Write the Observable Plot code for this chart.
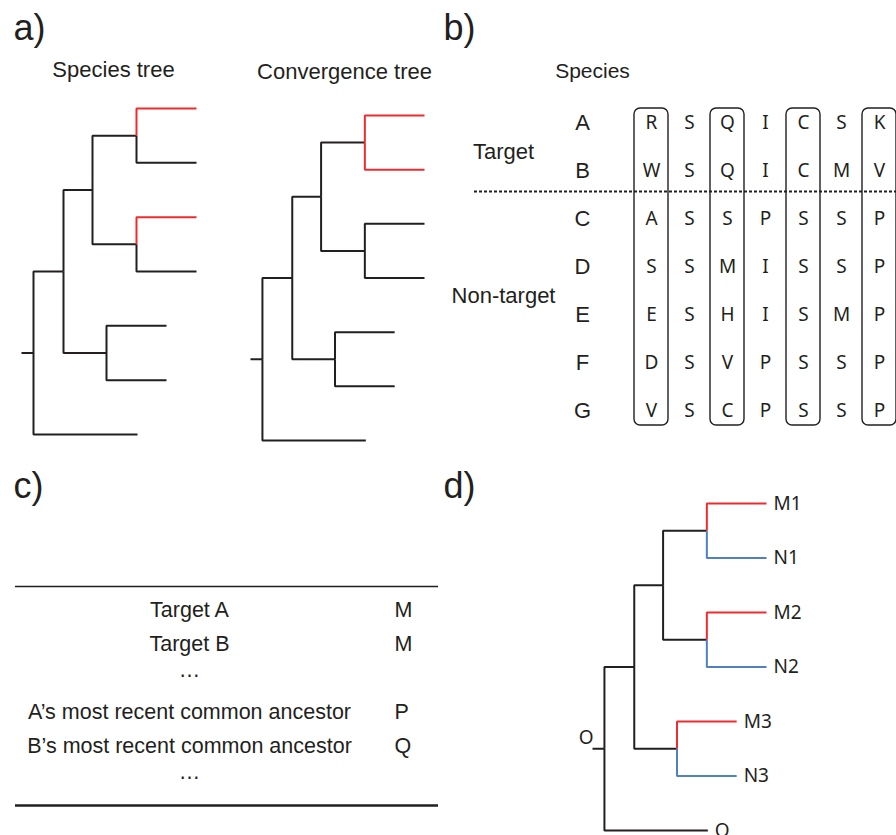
<!DOCTYPE html>
<html>
<head>
<meta charset="utf-8">
<script src="https://cdn.jsdelivr.net/npm/d3@7"></script>
<script src="https://cdn.jsdelivr.net/npm/@observablehq/plot@0.6"></script>
<style>
  body { margin: 0; background: #fff; }
  #root { position: relative; width: 896px; height: 835px; overflow: hidden; background: #fff; }
  #root svg { position: absolute; }
</style>
</head>
<body>
<div id="root"></div>
<script>
// ---------------- data ----------------
const panelLabels = ["a)", "b)", "c)", "d)"];
const treeTitles = ["Species tree", "Convergence tree"];

// one tree topology shared by all three trees (branch lengths)
const nodeIds       = ["root", "n1",  "n2", "c1", "L1", "L2", "c2", "L3", "L4", "c3", "L5", "L6", "out"];
const nodeParents   = [null,   "root","n1", "n2", "c1", "c1", "n2", "c2", "c2", "n1", "c3", "c3", "root"];
const branchLengths = [12,     30,    29,   44,   60,   60,   44,   60,   60,   43,   60,   60,   104];

const speciesTreeTargets = ["L1", "L3"];
const convergenceTreeTargets = ["L1", "L2"];
const dTreeTargets = ["L1", "L3", "L5"];
const dTreeSisters = ["L2", "L4", "L6"];
const dLeafIds = ["L1", "L2", "L3", "L4", "L5", "L6", "out"];
const dLeafLabels = ["M1", "N1", "M2", "N2", "M3", "N3", "O"];
const dRootLabel = "O";

// panel b
const speciesRows = ["A", "B", "C", "D", "E", "F", "G"];
const siteColumns = [1, 2, 3, 4, 5, 6, 7];
const alignment = ["RSQICSK", "WSQICMV", "ASSPSSP", "SSMISSP", "ESHISMP", "DSVPSSP", "VSCPSSP"];
const boxedColumns = [1, 3, 5, 7];
const groupLabels = ["Target", "Non-target"];
const groupAnchorRows = ["B", "E"];
const lastTargetRow = "B";
const speciesHeader = "Species";

// panel c
const tableLabels = ["Target A", "Target B", "…", "A’s most recent common ancestor", "B’s most recent common ancestor", "…"];
const tableStates = ["M", "M", "", "P", "Q", ""];

// ---------------- styles ----------------
const INK = "#231f20", RED = "#ee2c2f", BLUE = "#4f81bd";
const ARIAL = "Liberation Sans, Arial, sans-serif";
const SANS = "Noto Sans, Open Sans, sans-serif";
const container = document.getElementById("root");

function place(svg, left, top) {
  svg.style.left = left + "px";
  svg.style.top = top + "px";
  svg.style.background = "transparent";
  svg.style.overflow = "visible";
  container.appendChild(svg);
}

const nodes = nodeIds.map((id, i) => ({id, parent: nodeParents[i], length: branchLengths[i]}));

function layoutTree(kindOf) {
  const root = d3.stratify().id(d => d.id).parentId(d => d.parent)(nodes);
  root.eachBefore(n => { n.x = (n.parent ? n.parent.x : 0) + n.data.length; });
  let k = 0;
  root.eachAfter(n => {
    n.y = n.children ? (n.children[0].y + n.children[n.children.length - 1].y) / 2 : k++;
  });
  const links = [{x1: 0, y1: root.y, x2: root.x, y2: root.y, kind: "plain"}].concat(
    root.descendants().filter(n => n.parent).map(n => ({
      x1: n.parent.x, y1: n.parent.y, x2: n.x, y2: n.y, kind: kindOf(n.id)
    }))
  );
  links.sort((a, b) => (a.kind !== "plain") - (b.kind !== "plain"));
  return {root, links, leaves: root.leaves()};
}

const maxDepth = d3.max(layoutTree(() => "plain").leaves, d => d.x);
const colorScale = {domain: ["plain", "target", "sister"], range: [INK, RED, BLUE]};

function treeMark(links) {
  return Plot.link(links, {
    x1: "x1", y1: "y1", x2: "x2", y2: "y2",
    curve: "step-before", stroke: "kind", strokeWidth: 2, strokeLinejoin: "miter", strokeLinecap: "butt"
  });
}

function panelLabel(text, dx, dy) {
  return Plot.text([text], {frameAnchor: "top-left", textAnchor: "start", lineAnchor: "middle",
    dx, dy, fontSize: 36, fontFamily: ARIAL, fill: INK});
}

// ---------------- panel a: species tree ----------------
{
  const t = layoutTree(id => speciesTreeTargets.includes(id) ? "target" : "plain");
  const svg = Plot.plot({
    width: 230, height: 455, margin: 0,
    x: {domain: [0, maxDepth], range: [21, 196], axis: null},
    y: {domain: [0, 6], range: [108, 434], axis: null},
    color: colorScale,
    marks: [
      panelLabel(panelLabels[0], 13, 28),
      Plot.text([treeTitles[0]], {frameAnchor: "top", lineAnchor: "middle", dx: -2, dy: 69,
        fontSize: 22, fontFamily: ARIAL, fill: INK}),
      treeMark(t.links)
    ]
  });
  place(svg, 0, 0);
}

// ---------------- panel a: convergence tree ----------------
{
  const t = layoutTree(id => convergenceTreeTargets.includes(id) ? "target" : "plain");
  const svg = Plot.plot({
    width: 210, height: 455, margin: 0,
    x: {domain: [0, maxDepth], range: [20, 194], axis: null},
    y: {domain: [0, 6], range: [115, 440], axis: null},
    color: colorScale,
    marks: [
      Plot.text([treeTitles[1]], {frameAnchor: "top", lineAnchor: "middle", dx: 9, dy: 71,
        fontSize: 22, fontFamily: ARIAL, fill: INK}),
      treeMark(t.links)
    ]
  });
  place(svg, 230, 0);
}

// ---------------- panel b: alignment ----------------
{
  const cells = [];
  speciesRows.forEach((row, i) => siteColumns.forEach((col, j) => cells.push({row, col, letter: alignment[i][j]})));
  const svg = Plot.plot({
    width: 456, height: 455, marginLeft: 34, marginRight: 0, marginTop: 0, marginBottom: 0,
    x: {type: "band", domain: siteColumns, range: [189.75, 459.25], paddingInner: 0.117, paddingOuter: 0.0585, axis: null},
    y: {type: "point", domain: speciesRows, range: [120, 412], padding: 0, axis: null},
    marks: [
      panelLabel(panelLabels[1], -31, 28),
      Plot.text([speciesHeader], {frameAnchor: "top-left", textAnchor: "middle", lineAnchor: "middle",
        dx: 118, dy: 71, fontSize: 21, fontFamily: ARIAL, fill: INK}),
      Plot.text(groupLabels, {y: (d, i) => groupAnchorRows[i], frameAnchor: "left", textAnchor: "middle",
        dx: 29, dy: -19, fontSize: 22, fontFamily: ARIAL, fill: INK}),
      Plot.text(speciesRows, {y: d => d, frameAnchor: "left", textAnchor: "middle", dx: 108,
        fontSize: 22, fontFamily: ARIAL, fill: INK}),
      Plot.ruleY([lastTargetRow], {dy: 21, stroke: INK, strokeWidth: 2.2, strokeDasharray: "3,2"}),
      Plot.barY(boxedColumns, {x: d => d, y1: () => speciesRows[0], y2: () => speciesRows[speciesRows.length - 1],
        insetTop: -14, insetBottom: -15, fill: "none", stroke: INK, strokeWidth: 1.4, rx: 6}),
      Plot.text(cells, {x: "col", y: "row", text: "letter", fontSize: 19, fontFamily: SANS, fill: INK})
    ]
  });
  place(svg, 440, 0);
}

// ---------------- panel c: table ----------------
{
  const rows = tableLabels.map((label, i) => ({i, label, state: tableStates[i], dots: label === "…"}));
  const svg = Plot.plot({
    width: 448, height: 380, marginLeft: 15, marginRight: 10, marginTop: 0, marginBottom: 0,
    x: {type: "point", domain: ["label", "state"], range: [189, 394], padding: 0, axis: null},
    y: {type: "point", domain: d3.range(rows.length), range: [153, 326], padding: 0, axis: null},
    marks: [
      panelLabel(panelLabels[2], -2, 31),
      Plot.ruleY([0], {dy: -24, stroke: INK, strokeWidth: 1.6}),
      Plot.ruleY([rows.length - 1], {dy: 25, stroke: INK, strokeWidth: 2.6}),
      Plot.text(rows.filter(d => !d.dots), {x: () => "label", y: "i", text: "label",
        fontSize: 21.5, fontFamily: ARIAL, fill: INK}),
      Plot.text(rows.filter(d => d.dots), {x: () => "label", y: "i", text: "label", dy: -8,
        fontSize: 21.5, fontFamily: ARIAL, fill: INK}),
      Plot.text(rows, {x: () => "state", y: "i", text: "state", textAnchor: "start",
        fontSize: 21.5, fontFamily: ARIAL, fill: INK})
    ]
  });
  place(svg, 0, 455);
}

// ---------------- panel d: labelled tree ----------------
{
  const t = layoutTree(id => dTreeTargets.includes(id) ? "target" : dTreeSisters.includes(id) ? "sister" : "plain");
  const labelled = t.leaves.map(n => ({x: n.x, y: n.y, label: dLeafLabels[dLeafIds.indexOf(n.id)]}));
  const svg = Plot.plot({
    width: 456, height: 380, margin: 0,
    x: {domain: [0, maxDepth], range: [152, 326], axis: null},
    y: {domain: [0, 6], range: [48, 375], axis: null},
    color: colorScale,
    marks: [
      panelLabel(panelLabels[3], 3, 31),
      treeMark(t.links),
      Plot.text(labelled, {x: "x", y: "y", text: "label", dx: 7, textAnchor: "start",
        fontSize: 19, fontFamily: SANS, fill: INK}),
      Plot.text([dRootLabel], {x: () => 0, y: () => t.root.y, dx: 1, dy: -11, textAnchor: "end",
        fontSize: 19, fontFamily: SANS, fill: INK})
    ]
  });
  place(svg, 440, 455);
}
</script>
</body>
</html>
